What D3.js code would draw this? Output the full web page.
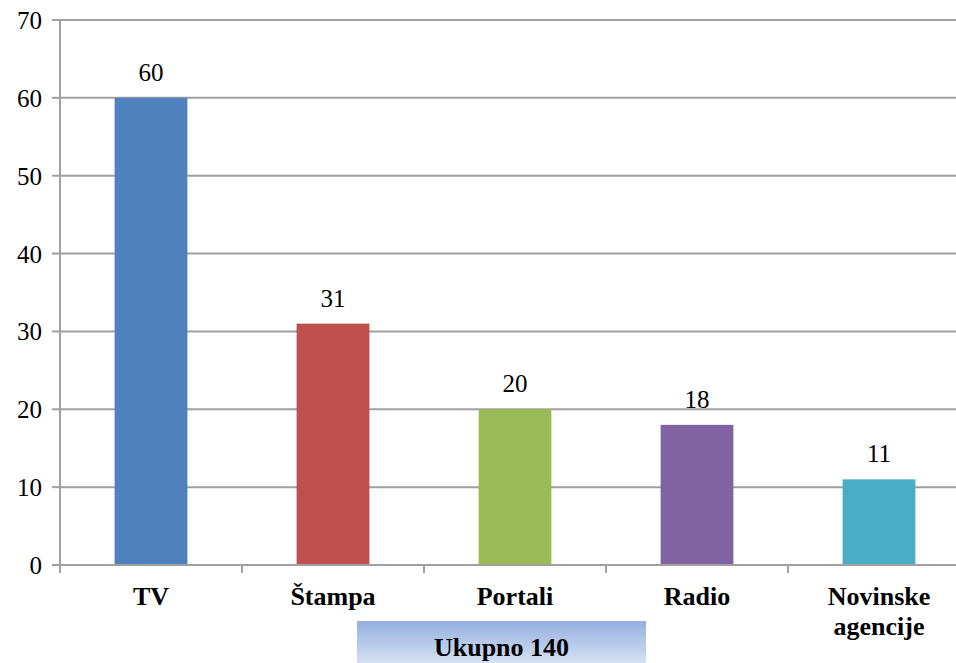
<!DOCTYPE html>
<html>
<head>
<meta charset="utf-8">
<script src="https://cdn.jsdelivr.net/npm/d3@7"></script>
</head>
<body style="margin:0">
<script>
var categories = ["TV", "Štampa", "Portali", "Radio", "Novinske agencije"];
var values = [60, 31, 20, 18, 11];
var colors = ["#4F81BD", "#C0504D", "#9BBB59", "#8064A2", "#4BACC6"];
var yTicks = [0, 10, 20, 30, 40, 50, 60, 70];
var totalLabel = "Ukupno 140";

var width = 956, height = 663;
var margin = {top: 20, right: -14, bottom: 98, left: 60};
var gridColor = "#a0a0a0";

var svg = d3.select("body")
        .append("svg")
        .attr("width", width)
        .attr("height", height)
        .style("display", "block");

var x = d3.scaleBand()
        .domain(categories)
        .range([margin.left, width - margin.right])
        .paddingInner(0.6)
        .paddingOuter(0.3);

var y = d3.scaleLinear()
        .domain([0, 70])
        .range([height - margin.bottom, margin.top]);

var step = x.step();

// gridlines
svg.append("g")
    .selectAll("line")
    .data(yTicks.slice(1))
    .enter()
    .append("line")
        .attr("x1", margin.left)
        .attr("x2", width - margin.right)
        .attr("y1", function(d) { return y(d); })
        .attr("y2", function(d) { return y(d); })
        .attr("stroke", gridColor)
        .attr("stroke-width", 2);

// bars
svg.selectAll("rect.bar")
    .data(values)
    .enter()
    .append("rect")
        .attr("class", "bar")
        .attr("x", function(d, i) { return x(categories[i]); })
        .attr("y", function(d) { return y(d); })
        .attr("width", x.bandwidth())
        .attr("height", function(d) { return y(0) - y(d); })
        .style("fill", function(d, i) { return colors[i]; });

// y axis line and ticks
svg.append("line")
    .attr("x1", margin.left).attr("x2", margin.left)
    .attr("y1", y(70)).attr("y2", y(0))
    .attr("stroke", gridColor)
    .attr("stroke-width", 2);

svg.append("g")
    .selectAll("line")
    .data(yTicks)
    .enter()
    .append("line")
        .attr("x1", margin.left - 8)
        .attr("x2", margin.left)
        .attr("y1", function(d) { return y(d); })
        .attr("y2", function(d) { return y(d); })
        .attr("stroke", gridColor)
        .attr("stroke-width", 2);

svg.selectAll("text.ytick")
    .data(yTicks)
    .enter()
    .append("text")
        .attr("class", "ytick")
        .attr("text-anchor", "end")
        .attr("x", margin.left - 18)
        .attr("y", function(d) { return y(d) + 9; })
        .attr("font-family", function() { return "Liberation Serif"; })
        .attr("font-size", 25)
        .text(function(d) { return d; });

// x axis
svg.append("line")
    .attr("x1", margin.left - 8)
    .attr("x2", width - margin.right)
    .attr("y1", y(0))
    .attr("y2", y(0))
    .attr("stroke", gridColor)
    .attr("stroke-width", 2);

svg.append("g")
    .selectAll("line")
    .data(categories.concat([null]))
    .enter()
    .append("line")
        .attr("x1", function(d, i) { return margin.left + i * step; })
        .attr("x2", function(d, i) { return margin.left + i * step; })
        .attr("y1", y(0))
        .attr("y2", y(0) + 8)
        .attr("stroke", gridColor)
        .attr("stroke-width", 2);

// category labels, one text per line
var catLines = [];
categories.forEach(function(c) {
    c.split(" ").forEach(function(w, k) {
        catLines.push({cat: c, word: w, line: k});
    });
});
svg.selectAll("text.cat")
    .data(catLines)
    .enter()
    .append("text")
        .attr("class", "cat")
        .attr("text-anchor", "middle")
        .attr("x", function(d) { return x(d.cat) + x.bandwidth() / 2; })
        .attr("y", function(d) { return y(0) + 40 + d.line * 30; })
        .attr("font-family", function() { return "Liberation Serif"; })
        .attr("font-size", 26)
        .attr("font-weight", "bold")
        .text(function(d) { return d.word; });

// value labels
svg.selectAll("text.val")
    .data(values)
    .enter()
    .append("text")
        .attr("class", "val")
        .attr("text-anchor", "middle")
        .attr("x", function(d, i) { return x(categories[i]) + x.bandwidth() / 2; })
        .attr("y", function(d) { return y(d) - 17; })
        .attr("font-family", function() { return "Liberation Serif"; })
        .attr("font-size", 25)
        .text(function(d) { return d; });

// total box
var grad = svg.append("defs").append("linearGradient")
    .attr("id", "boxGrad")
    .attr("x1", 0).attr("y1", 0).attr("x2", 0).attr("y2", 1);
grad.append("stop").attr("offset", "0%").attr("stop-color", "#94afe0");
grad.append("stop").attr("offset", "100%").attr("stop-color", "#e2eaf6");

svg.append("rect")
    .attr("x", 357)
    .attr("y", 621)
    .attr("width", 289)
    .attr("height", 50)
    .style("fill", "url(#boxGrad)");

svg.selectAll("text.total")
    .data([totalLabel])
    .enter()
    .append("text")
        .attr("class", "total")
        .attr("text-anchor", "middle")
        .attr("x", 501.5)
        .attr("y", 656)
        .attr("font-family", function() { return "Liberation Serif"; })
        .attr("font-size", 26)
        .attr("font-weight", "bold")
        .text(function(d) { return d; });
</script>
</body>
</html>
